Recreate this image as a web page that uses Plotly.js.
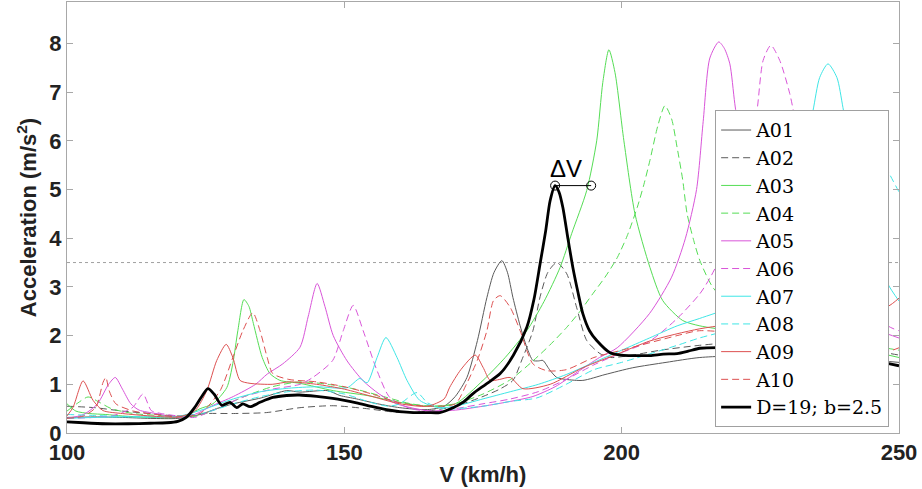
<!DOCTYPE html>
<html>
<head>
<meta charset="utf-8">
<script src="https://cdn.plot.ly/plotly-3.0.1.min.js"></script>
<style>html,body{margin:0;padding:0;background:#fff;}#chart{width:922px;height:489px;}</style>
</head>
<body>
<div id="chart"></div>
<script>
// ---- data ----
const seriesNames = ["A01","A02","A03","A04","A05","A06","A07","A08","A09","A10","D=19; b=2.5"];

const xA01 = [100,105,110,115,120,124,127,130,135,139.6,142,147,149.2,152.2,156,160,165,168,170,172.1,174,175.7,177,178.4,179.4,180.4,181.7,182.9,184,185,185.8,187,188.3,190,193,197,202,208,214.1,225,235,245,250];
const yA01 = [.32,.33,.32,.3,.3,.38,.5,.6,.72,.87,.84,.87,.77,.7,.6,.52,.48,.55,.75,1.14,1.9,2.78,3.3,3.54,3.3,2.78,2.2,1.76,1.49,1.48,1.49,1.3,1.14,1.1,1.08,1.2,1.34,1.45,1.55,1.6,1.6,1.5,1.45];

const xA02 = [100,105,110,115,120,125,130,136,142,148,154,160,165,170,175,178,180.4,182,184,185.3,186.7,188.3,190.1,191.9,193.7,196.1,198,202,207,214,225,235,245,250];
const yA02 = [.55,.52,.45,.4,.35,.4,.4,.42,.52,.56,.5,.42,.45,.55,.75,.9,1.08,1.5,2.1,2.8,3.3,3.5,3.27,2.57,1.9,1.63,1.55,1.6,1.7,1.8,1.9,1.9,1.7,1.6];

const xA03 = [100,101.6,104,107,110,115,120,122,124,126.3,128.8,129.9,130.8,131.9,132.8,133.6,135.2,136.6,138.4,142,148,154.1,160,165,170,175,179,182.9,186,188.9,191,193.7,195.5,196.6,197.7,198.8,200.4,202.4,205.1,207.4,211,214.1,220,230,240,250];
const yA03 = [.6,.45,.4,.38,.35,.32,.32,.38,.5,.6,.93,1.43,2.1,2.74,2.6,2.25,1.55,1.22,1.08,1.02,.87,.77,.63,.55,.6,1.08,1.55,2.1,2.7,3.4,4.1,4.98,6.0,7.2,7.87,7.4,6.0,4.5,3.4,2.72,2.31,2.2,2.1,2.0,1.8,1.55];

const xA04 = [100,102,103.8,106,108,112,118,122,125,127,132,137,142,147,152,157,162,166,170,175,180,184,187,190.1,192.5,194.8,197,199.2,201,202.8,204,205.1,206.5,207.8,209,210,211,211.8,213,214.1,216.5,220,230,240,250];
const yA04 = [.45,.62,.74,.62,.5,.4,.35,.32,.4,.5,.75,.95,1.05,1.0,.9,.75,.6,.55,.6,.8,1.1,1.48,1.8,2.17,2.5,2.86,3.2,3.6,4.05,4.63,5.1,5.6,6.3,6.72,6.45,5.86,5.2,4.5,3.95,3.54,2.98,2.6,2.2,1.9,1.7];

const xA05 = [100,103,105.5,107.5,108.7,110,111.5,113,116,120,123,126,130,134,136.1,138.9,142,143.5,145.1,146.5,148,150.5,153.4,156.3,159.4,165.4,170,175,180,184,188,192,196,199.2,205,209,211.5,213.5,214.7,215.9,217.5,218.5,219.5,220.4,222,225,230,240,248,250];
const yA05 = [.3,.38,.6,1.0,1.14,.9,.6,.47,.4,.32,.38,.55,.75,1.0,1.21,1.42,1.76,2.4,3.07,2.6,2.0,1.48,1.07,.8,.6,.45,.47,.55,.65,.75,.95,1.25,1.55,1.75,2.45,3.2,4.0,5.0,6.4,7.7,8.03,7.9,7.58,6.76,5.5,4.0,3.0,2.3,2.03,1.95];

const xA06 = [100,105,108,110,111.9,113.7,115.2,117,120,123,127,132,137,142,144.3,147.9,149.8,151.6,153.4,155.9,158.2,162,166,170,175,180,185,190,195,200,205.1,210,214.1,216,219,222,224.4,225.5,226.9,228.5,230.3,233,240,248,250];
const yA06 = [.3,.32,.35,.42,.53,.8,.46,.4,.35,.32,.5,.75,.9,1.0,1.14,1.49,2.1,2.62,2.1,1.28,.73,.5,.45,.5,.6,.7,.85,1.1,1.4,1.65,1.89,2.35,2.86,3.2,3.9,5.0,6.62,7.65,7.96,7.65,6.97,5.5,3.2,2.2,2.1];

const xA07 = [100,105,110,115,120,125,130,135,140,145,150.5,152.8,154.1,155.9,157.5,159.5,161.3,163.6,167,170,175,180,185,190,195,200,205,210,214,220,225,230,233,234.5,235.7,237.2,238.8,239.9,242,245,248,250];
const yA07 = [.3,.32,.33,.33,.34,.5,.7,.85,.92,.95,.93,1.12,1.03,1.55,1.96,1.55,1.08,.67,.52,.55,.7,.85,1.0,1.2,1.45,1.7,1.95,2.2,2.35,2.6,3.0,4.3,5.8,6.62,7.3,7.58,7.3,6.68,5.3,4.0,3.06,2.71];

const xA08 = [100,105,110,115,120,125,130,135,140,145,150,155,158,160,163.1,165,168,175,180,184.7,190,195,200,210,214,222,230,236,240,244.5,248,250];
const yA08 = [.38,.36,.34,.33,.33,.42,.6,.75,.85,.88,.8,.62,.55,.6,.83,.62,.5,.55,.65,.72,1.0,1.3,1.45,1.8,1.95,2.2,2.6,3.3,4.5,6.2,5.38,4.95];

const xA09 = [100,101.1,102.9,104.7,106.5,110,115,120,123,125.2,127,128.7,129.9,131.2,133,137,140,145,150,155,160,165,168,169,171,173.6,175,176.3,178,179.9,182.2,187.1,193,199.2,205.1,214.1,225,240,248,250];
const yA09 = [.35,.53,1.07,.67,.46,.4,.35,.33,.45,.87,1.49,1.82,1.55,1.08,1.02,1.0,1.05,1.0,.9,.75,.6,.55,.7,.94,1.3,1.6,1.35,1.08,1.1,1.14,.91,1.0,1.34,1.62,1.89,2.14,2.3,2.4,2.6,2.77];

const xA10 = [100,103,105.2,106.5,107,107.6,108.8,112,116,120,124,127.6,129.9,131.7,133.5,134.8,136.1,137.1,140,145,150,155,160,165,170,172,174,175.7,176.9,178.1,179.9,181.7,184,186.5,190,195,200,210,214,225,240,248,250];
const yA10 = [.3,.35,.53,1.04,1.14,.87,.6,.45,.38,.33,.4,.87,1.55,2.1,2.47,2.1,1.55,1.22,1.1,1.05,.95,.8,.62,.55,.6,1.0,1.5,2.1,2.72,2.82,2.58,2.1,1.42,1.28,1.3,1.55,1.7,2.0,2.1,2.0,1.8,1.68,1.75];

const xD19 = [100,103,107,111,115,118,120,121.5,123,124.3,125.4,126.5,127.9,129.4,130.6,131.7,133,134.8,137.1,139.6,141.9,145,147.9,150,152.2,155.1,157.6,160,162.4,165,167.2,169.6,171.5,173.2,175.5,178.1,180.5,182.9,184.2,185.3,186.3,187.1,188,188.7,189.4,190.3,191.2,192.1,193,194.2,195.5,197.9,200,202,205.1,207.5,210,212,214.1,220,230,240,250];
const yD19 = [.23,.21,.19,.19,.2,.21,.24,.32,.52,.75,.91,.8,.57,.63,.52,.6,.54,.63,.73,.77,.78,.75,.71,.67,.62,.54,.48,.44,.42,.42,.42,.52,.64,.81,1.0,1.22,1.6,2.17,2.75,3.48,4.15,4.77,5.08,4.95,4.63,4.0,3.4,2.9,2.45,2.1,1.9,1.65,1.6,1.59,1.59,1.62,1.63,1.68,1.74,1.75,1.7,1.6,1.38];

const threshold = 3.5;
const dvX = [188.0, 194.5];
const dvY = [5.08, 5.08];
const xTicks = [100,150,200,250];
const yTicks = [0,1,2,3,4,5,6,7,8];

// ---- styles ----
const GRAY = '#5a5a5a', GREEN = '#55dd55', MAG = '#d955d9', CYAN = '#3fe6e6', RED = '#dd5050';
const DASH = '7px,4px';
const defs = [
  [xA01,yA01,GRAY,'solid',1],
  [xA02,yA02,GRAY,DASH,1],
  [xA03,yA03,GREEN,'solid',1],
  [xA04,yA04,GREEN,DASH,1],
  [xA05,yA05,MAG,'solid',1],
  [xA06,yA06,MAG,DASH,1],
  [xA07,yA07,CYAN,'solid',1],
  [xA08,yA08,CYAN,DASH,1],
  [xA09,yA09,RED,'solid',1],
  [xA10,yA10,RED,DASH,1],
  [xD19,yD19,'#000000','solid',2.8]
];
const traces = defs.map((d,i)=>({
  x:d[0], y:d[1], name:seriesNames[i], type:'scatter', mode:'lines',
  line:{color:d[2], dash:d[3], width:d[4], shape:'spline', smoothing:0.7}
}));
traces.push({
  x:dvX, y:dvY, type:'scatter', mode:'lines+markers', showlegend:false, hoverinfo:'skip',
  line:{color:'#000', width:1},
  marker:{symbol:'circle-open', size:9, color:'#000', line:{width:1, color:'#000'}}
});

const axisCommon = {
  showline:true, mirror:'ticks', linecolor:'#a8a8a8', linewidth:1,
  ticks:'inside', ticklen:6, tickcolor:'#a8a8a8', tickwidth:1,
  showgrid:false, zeroline:false,
  tickfont:{family:'Liberation Sans, Arial, sans-serif', size:22, color:'#222', weight:'bold'}
};

const layout = {
  width:922, height:489,
  margin:{l:67, r:23, t:2, b:56},
  paper_bgcolor:'#fff', plot_bgcolor:'#fff',
  showlegend:true,
  xaxis: Object.assign({}, axisCommon, {
    range:[100,250], tickvals:xTicks, ticktext:xTicks.map(String),
    title:{text:'<b>V (km/h)</b>', font:{family:'Liberation Sans, Arial, sans-serif', size:22, color:'#222'}, standoff:2}
  }),
  yaxis: Object.assign({}, axisCommon, {
    range:[0,8.85], tickvals:yTicks, ticktext:yTicks.map(String),
    title:{text:'<b>Acceleration (m/s<sup>2</sup>)</b>', font:{family:'Liberation Sans, Arial, sans-serif', size:22, color:'#222'}, standoff:6}
  }),
  legend:{
    x:0.779, y:0.749, xanchor:'left', yanchor:'top',
    bgcolor:'#fff', bordercolor:'#a0a0a0', borderwidth:1,
    font:{family:'DejaVu Serif, serif', size:19, color:'#000'},
    tracegroupgap:0
  },
  shapes:[{
    type:'line', xref:'paper', x0:0, x1:1, yref:'y', y0:threshold, y1:threshold,
    line:{color:'#a0a0a0', width:1, dash:'dot'}, layer:'below'
  }],
  annotations:[{
    x:(dvX[0]+dvX[1])/2 - 1.3, y:dvY[0], xref:'x', yref:'y', yanchor:'bottom', yshift:2,
    text:'ΔV', showarrow:false,
    font:{family:'Liberation Sans, Arial, sans-serif', size:24, color:'#000'}
  }]
};

Plotly.newPlot('chart', traces, layout, {displayModeBar:false, staticPlot:true});
</script>
</body>
</html>
